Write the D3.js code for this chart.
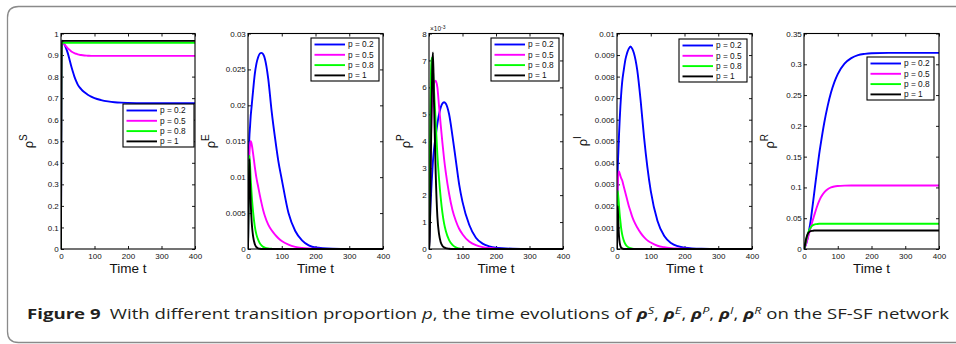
<!DOCTYPE html>
<html><head><meta charset="utf-8">
<script src="https://cdn.jsdelivr.net/npm/d3@7/dist/d3.min.js"></script>
<style>body{margin:0;background:#fff}svg{display:block}</style>
</head><body>
<svg id="c" width="956" height="344"></svg>
<script>
// ---------------- data ----------------
const time = [0, 2, 4, 6, 8, 10, 12, 15, 20, 25, 30, 35, 40, 45, 50, 60, 70, 80, 90, 100, 120, 140, 160, 180, 200, 250, 300, 400];
const legendLabels = ["p = 0.2", "p = 0.5", "p = 0.8", "p = 1"];
const xTicks = [0, 100, 200, 300, 400];

// rho^S
const sP02 = [0, 0.965, 0.963, 0.96, 0.956, 0.95, 0.944, 0.932, 0.91, 0.882, 0.852, 0.825, 0.8, 0.78, 0.763, 0.742, 0.727, 0.716, 0.707, 0.70, 0.691, 0.685, 0.681, 0.679, 0.678, 0.677, 0.677, 0.677];
const sP05 = [0, 0.965, 0.962, 0.958, 0.954, 0.95, 0.946, 0.941, 0.932, 0.925, 0.918, 0.913, 0.909, 0.906, 0.903, 0.9, 0.898, 0.897, 0.896, 0.896, 0.896, 0.896, 0.896, 0.896, 0.896, 0.896, 0.896, 0.896];
const sP08 = [0, 0.961, 0.959, 0.958, 0.957, 0.957, 0.957, 0.957, 0.957, 0.957, 0.957, 0.957, 0.957, 0.957, 0.957, 0.957, 0.957, 0.957, 0.957, 0.957, 0.957, 0.957, 0.957, 0.957, 0.957, 0.957, 0.957, 0.957];
const sP1  = [0, 0.967, 0.966, 0.966, 0.966, 0.966, 0.966, 0.966, 0.966, 0.966, 0.966, 0.966, 0.966, 0.966, 0.966, 0.966, 0.966, 0.966, 0.966, 0.966, 0.966, 0.966, 0.966, 0.966, 0.966, 0.966, 0.966, 0.966];
const yTicksS = [0, 0.1, 0.2, 0.3, 0.4, 0.5, 0.6, 0.7, 0.8, 0.9, 1];
const yLabelsS = ["0", "0.1", "0.2", "0.3", "0.4", "0.5", "0.6", "0.7", "0.8", "0.9", "1"];

// rho^E
const eP02 = [0, 0.012, 0.0155, 0.017, 0.0185, 0.0195, 0.0205, 0.022, 0.0243, 0.0258, 0.0267, 0.0272, 0.0273, 0.0271, 0.0265, 0.0237, 0.0192, 0.0155, 0.0122, 0.0097, 0.005, 0.0025, 0.0012, 0.0005, 0.0002, 0.00004, 0, 0];
const eP05 = [0, 0.009, 0.013, 0.0145, 0.015, 0.0148, 0.0143, 0.0133, 0.0115, 0.0099, 0.0087, 0.0075, 0.0064, 0.0054, 0.0046, 0.0034, 0.0026, 0.002, 0.0015, 0.0011, 0.0006, 0.0003, 0.00015, 0.00007, 0.00003, 0, 0, 0];
const eP08 = [0, 0.008, 0.013, 0.0118, 0.0098, 0.0082, 0.0068, 0.0052, 0.0032, 0.002, 0.0013, 0.0008, 0.0005, 0.0003, 0.0002, 0.00008, 0.00003, 0, 0, 0, 0, 0, 0, 0, 0, 0, 0, 0];
const eP1  = [0, 0.007, 0.0125, 0.0095, 0.0065, 0.0045, 0.0031, 0.0018, 0.0007, 0.00025, 0.0001, 0.00004, 0, 0, 0, 0, 0, 0, 0, 0, 0, 0, 0, 0, 0, 0, 0, 0];
const yTicksE = [0, 0.005, 0.01, 0.015, 0.02, 0.025, 0.03];
const yLabelsE = ["0", "0.005", "0.01", "0.015", "0.02", "0.025", "0.03"];

// rho^P (in units of 10^-3)
const pP02 = [0, 0.8, 1.5, 2.0, 2.5, 2.9, 3.3, 3.7, 4.2, 4.65, 5.0, 5.25, 5.4, 5.45, 5.4, 5.0, 4.2, 3.3, 2.4, 1.75, 0.9, 0.42, 0.2, 0.1, 0.05, 0.01, 0, 0];
const pP05 = [0, 1.5, 3.0, 4.2, 5.0, 5.5, 5.9, 6.15, 6.25, 6.0, 5.3, 4.6, 3.95, 3.35, 2.85, 2.05, 1.45, 1.05, 0.75, 0.55, 0.28, 0.14, 0.07, 0.035, 0.015, 0, 0, 0];
const pP08 = [0, 2.5, 5.0, 6.6, 7.1, 7.0, 6.6, 5.9, 4.7, 3.5, 2.6, 1.9, 1.35, 0.95, 0.68, 0.33, 0.15, 0.06, 0.02, 0, 0, 0, 0, 0, 0, 0, 0, 0];
const pP1  = [0, 0.3, 1.8, 3.8, 5.6, 6.9, 7.3, 5.4, 2.8, 1.2, 0.55, 0.25, 0.12, 0.06, 0.03, 0.01, 0, 0, 0, 0, 0, 0, 0, 0, 0, 0, 0, 0];
const yTicksP = [0, 1, 2, 3, 4, 5, 6, 7, 8];
const yLabelsP = ["0", "1", "2", "3", "4", "5", "6", "7", "8"];

// rho^I
const iP02 = [0, 0.0035, 0.0045, 0.0053, 0.006, 0.0066, 0.0071, 0.0077, 0.0083, 0.0088, 0.0091, 0.0093, 0.0094, 0.0093, 0.0091, 0.0083, 0.0069, 0.0052, 0.0038, 0.0027, 0.0013, 0.0006, 0.00028, 0.00013, 0.00006, 0.00001, 0, 0];
const iP05 = [0, 0.0028, 0.0035, 0.0036, 0.0035, 0.0034, 0.0033, 0.0032, 0.0029, 0.0026, 0.0023, 0.002, 0.00175, 0.0015, 0.0013, 0.001, 0.00075, 0.00055, 0.0004, 0.0003, 0.00015, 0.00008, 0.00004, 0.00002, 0.00001, 0, 0, 0];
const iP08 = [0, 0.0027, 0.0024, 0.002, 0.0016, 0.0013, 0.001, 0.0007, 0.0004, 0.00022, 0.00012, 0.00007, 0.00004, 0.00002, 0, 0, 0, 0, 0, 0, 0, 0, 0, 0, 0, 0, 0, 0];
const iP1  = [0, 0.002, 0.0012, 0.0006, 0.0003, 0.00015, 0.00007, 0.00003, 0, 0, 0, 0, 0, 0, 0, 0, 0, 0, 0, 0, 0, 0, 0, 0, 0, 0, 0, 0];
const yTicksI = [0, 0.001, 0.002, 0.003, 0.004, 0.005, 0.006, 0.007, 0.008, 0.009, 0.01];
const yLabelsI = ["0", "0.001", "0.002", "0.003", "0.004", "0.005", "0.006", "0.007", "0.008", "0.009", "0.01"];

// rho^R
const rP02 = [0, 0.002, 0.005, 0.008, 0.012, 0.016, 0.021, 0.03, 0.047, 0.068, 0.09, 0.112, 0.133, 0.154, 0.172, 0.205, 0.232, 0.254, 0.271, 0.284, 0.301, 0.31, 0.315, 0.317, 0.318, 0.3185, 0.3185, 0.3185];
const rP05 = [0, 0.002, 0.005, 0.008, 0.011, 0.015, 0.019, 0.025, 0.035, 0.045, 0.054, 0.063, 0.071, 0.078, 0.084, 0.092, 0.097, 0.1, 0.1015, 0.1023, 0.103, 0.1032, 0.1032, 0.1032, 0.1032, 0.1032, 0.1032, 0.1032];
const rP08 = [0, 0.003, 0.008, 0.013, 0.018, 0.022, 0.026, 0.03, 0.035, 0.038, 0.0395, 0.0403, 0.0407, 0.0409, 0.041, 0.041, 0.041, 0.041, 0.041, 0.041, 0.041, 0.041, 0.041, 0.041, 0.041, 0.041, 0.041, 0.041];
const rP1  = [0, 0.004, 0.01, 0.016, 0.02, 0.023, 0.0255, 0.0275, 0.029, 0.0295, 0.03, 0.03, 0.03, 0.03, 0.03, 0.03, 0.03, 0.03, 0.03, 0.03, 0.03, 0.03, 0.03, 0.03, 0.03, 0.03, 0.03, 0.03];
const yTicksR = [0, 0.05, 0.1, 0.15, 0.2, 0.25, 0.3, 0.35];
const yLabelsR = ["0", "0.05", "0.1", "0.15", "0.2", "0.25", "0.3", "0.35"];

// ---------------- styles / layout ----------------
const colors = ["#0000ff", "#ff00ff", "#00ff00", "#000000"];
const FONT = "'Liberation Sans', Arial, sans-serif";
const plotTop = 33.5, plotBottom = 249;

const panels = [
  {series: [sP02, sP05, sP08, sP1], ticks: yTicksS, labels: yLabelsS, sup: "S", left: 61,  right: 195, legX: 123, legY: 104, legW: 71, labX: 33},
  {series: [eP02, eP05, eP08, eP1], ticks: yTicksE, labels: yLabelsE, sup: "E", left: 248, right: 383, legX: 311, legY: 38,  legW: 68, labX: 215},
  {series: [pP02, pP05, pP08, pP1], ticks: yTicksP, labels: yLabelsP, sup: "P", left: 429, right: 563, legX: 491, legY: 38,  legW: 68, labX: 410, exp: true},
  {series: [iP02, iP05, iP08, iP1], ticks: yTicksI, labels: yLabelsI, sup: "I", left: 617, right: 752, legX: 679, legY: 39,  legW: 68, labX: 587},
  {series: [rP02, rP05, rP08, rP1], ticks: yTicksR, labels: yLabelsR, sup: "R", left: 804, right: 939, legX: 867, legY: 57,  legW: 67, labX: 774}
];

const svg = d3.select("#c");

// frame (rounded, open to the right)
const fr = 11, fl = 7.5, ft = 6.5, fb = 342.5;
svg.append("path")
  .attr("d", `M970,${ft} L${fl + fr},${ft} Q${fl},${ft} ${fl},${ft + fr} L${fl},${fb - fr} Q${fl},${fb} ${fl + fr},${fb} L970,${fb}`)
  .attr("fill", "none").attr("stroke", "#8a8a8a").attr("stroke-width", 1.3);

const defs = svg.append("defs");

panels.forEach((p, pi) => {
  const x = d3.scaleLinear().domain([0, 400]).range([p.left, p.right]);
  const yMax = p.ticks[p.ticks.length - 1];
  const y = d3.scaleLinear().domain([0, yMax]).range([plotBottom, plotTop]);
  const g = svg.append("g");

  defs.append("clipPath").attr("id", "clip" + pi)
    .append("rect").attr("x", p.left).attr("y", plotTop - 1).attr("width", p.right - p.left).attr("height", plotBottom - plotTop + 2);

  const labelMap = new Map(p.ticks.map((t, i) => [t, p.labels[i]]));

  const styleAxis = sel => {
    sel.select(".domain").remove();
    sel.selectAll(".tick line").attr("stroke", "#000").attr("stroke-width", 0.9);
    sel.selectAll(".tick text").attr("fill", "#111").style("font-family", FONT).style("font-size", "8px");
  };

  g.append("g").attr("transform", `translate(0,${plotBottom})`)
    .call(d3.axisBottom(x).tickValues(xTicks).tickFormat(d3.format("d")).tickSize(-3).tickPadding(4.5).tickSizeOuter(0))
    .call(styleAxis);
  g.append("g").attr("transform", `translate(0,${plotTop})`)
    .call(d3.axisTop(x).tickValues(xTicks).tickFormat("").tickSize(-3).tickSizeOuter(0))
    .call(styleAxis);
  g.append("g").attr("transform", `translate(${p.left},0)`)
    .call(d3.axisLeft(y).tickValues(p.ticks).tickFormat(d => labelMap.get(d)).tickSize(-3).tickPadding(2.2).tickSizeOuter(0))
    .call(styleAxis);
  g.append("g").attr("transform", `translate(${p.right},0)`)
    .call(d3.axisRight(y).tickValues(p.ticks).tickFormat("").tickSize(-3).tickSizeOuter(0))
    .call(styleAxis);

  // lines
  const line = d3.line().x((d, i) => x(time[i])).y(d => y(d)).curve(d3.curveMonotoneX);
  const lg = g.append("g").attr("clip-path", `url(#clip${pi})`);
  p.series.forEach((s, si) => {
    lg.append("path").attr("d", line(s)).attr("fill", "none")
      .attr("stroke", colors[si]).attr("stroke-width", 1.9).attr("stroke-linejoin", "round");
  });

  // box
  g.append("rect").attr("x", p.left).attr("y", plotTop).attr("width", p.right - p.left).attr("height", plotBottom - plotTop)
    .attr("fill", "none").attr("stroke", "#000").attr("stroke-width", 1.1);

  // x label
  g.append("text").attr("x", (p.left + p.right) / 2).attr("y", 273)
    .attr("text-anchor", "middle").style("font-family", FONT).style("font-size", "13.5px").attr("fill", "#111")
    .text("Time t");

  // y label
  const yl = g.append("text")
    .attr("transform", `translate(${p.labX},${(plotTop + plotBottom) / 2}) rotate(-90)`)
    .attr("text-anchor", "middle").style("font-family", FONT).attr("fill", "#111");
  yl.append("tspan").style("font-size", "13px").text("ρ");
  yl.append("tspan").style("font-size", "10px").attr("dy", -6).text(p.sup);

  // exponent
  if (p.exp) {
    const ex = g.append("text").attr("x", p.left + 1).attr("y", 31).style("font-family", FONT).attr("fill", "#111");
    ex.append("tspan").style("font-size", "6.5px").text("×10");
    ex.append("tspan").style("font-size", "5px").attr("dy", -2.5).text("-3");
  }

  // legend
  const lw = p.legW, lh = 43;
  const leg = g.append("g").attr("transform", `translate(${p.legX},${p.legY})`);
  leg.append("rect").attr("width", lw).attr("height", lh).attr("fill", "#fff").attr("stroke", "#000").attr("stroke-width", 1.1);
  legendLabels.forEach((lab, li) => {
    const yy = 6.5 + li * 10.3;
    leg.append("line").attr("x1", 3.5).attr("x2", 34).attr("y1", yy).attr("y2", yy)
      .attr("stroke", colors[li]).attr("stroke-width", 1.9);
    leg.append("text").attr("x", 37).attr("y", yy).attr("dy", "0.35em")
      .style("font-family", FONT).style("font-size", "8.3px").attr("fill", "#111").text(lab);
  });
});

// caption
const capParts = [
  {t: "Figure 9", w: "bold"},
  {t: "With different transition proportion ", dx: 7},
  {t: "p", s: "italic"},
  {t: ", the time evolutions of "},
  {t: "ρ", s: "italic", w: "bold"}, {t: "S", s: "italic", sup: true}, {t: ", "},
  {t: "ρ", s: "italic", w: "bold"}, {t: "E", s: "italic", sup: true}, {t: ", "},
  {t: "ρ", s: "italic", w: "bold"}, {t: "P", s: "italic", sup: true}, {t: ", "},
  {t: "ρ", s: "italic", w: "bold"}, {t: "I", s: "italic", sup: true}, {t: ", "},
  {t: "ρ", s: "italic", w: "bold"}, {t: "R", s: "italic", sup: true}, {t: " on the SF-SF network"}
];
const capX = 27, capY = 319, capW = 922;
const cap = svg.append("text").attr("x", capX).attr("y", capY)
  .attr("textLength", capW).attr("lengthAdjust", "spacingAndGlyphs")
  .style("font-family", "'Open Sans', 'Noto Sans', sans-serif").style("font-size", "14px").attr("fill", "#231f20")
  .attr("xml:space", "preserve");
let raised = false;
capParts.forEach(pt => {
  const ts = cap.append("tspan").text(pt.t);
  if (pt.w) ts.style("font-weight", pt.w);
  if (pt.s) ts.style("font-style", pt.s);
  let dy = 0;
  if (pt.sup && !raised) { dy = -5; raised = true; ts.style("font-size", "9.5px"); }
  else if (!pt.sup && raised) { dy = 5; raised = false; }
  if (dy) ts.attr("dy", dy);
  if (pt.dx) ts.attr("dx", pt.dx);
});
</script>
</body></html>
